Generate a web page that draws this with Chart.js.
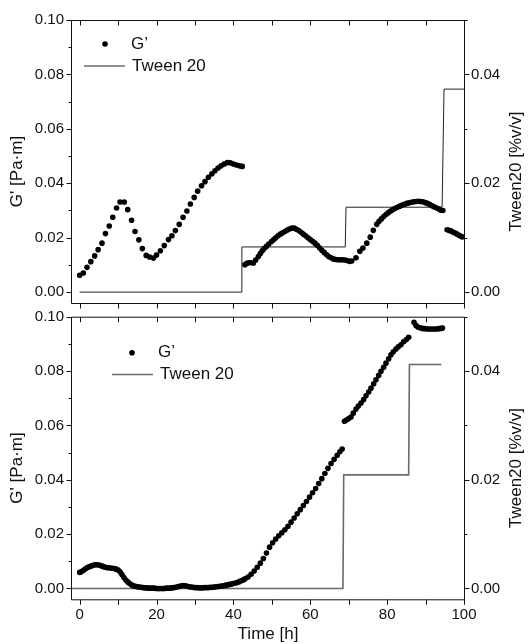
<!DOCTYPE html>
<html>
<head>
<meta charset="utf-8">
<script src="https://cdn.jsdelivr.net/npm/chart.js@4.4.1/dist/chart.umd.min.js"></script>
<style>
  html, body { margin: 0; padding: 0; background: #fff; }
  #wrap { position: relative; width: 528px; height: 644px; overflow: hidden; }
  canvas { position: absolute; left: 0; }
  #c1 { top: 0; }
  #c2 { top: 300px; }
</style>
</head>
<body>
<div id="wrap">
  <canvas id="c1" width="528" height="310"></canvas>
  <canvas id="c2" width="528" height="344"></canvas>
</div>
<script>
// ---------------- DATA ----------------
// Top panel: G' [Pa·m] vs time [h]
const topTime = [
  0, 0.95, 1.9, 2.9, 3.9, 4.8, 5.8, 6.7, 7.7, 8.6, 9.6, 10.5, 11.6, 12.5, 13.5, 14.4, 15.4, 16.3, 17.3, 18.2,
  19.2, 20.0, 21.0, 22.0, 23.1, 24.0, 24.9, 25.9, 26.9, 27.9, 28.8, 29.8, 30.7, 31.7,
  32.6, 33.5, 34.4, 35.2, 36.0, 36.8, 37.6, 38.4, 39.2, 40.0, 40.8, 41.6, 42.3,
  43.0, 43.5, 44.0, 44.6, 45.2, 45.8, 46.5, 47.0, 47.5, 48.0, 48.6, 49.2, 49.9, 50.5, 51.0, 51.6, 52.2, 52.8,
  53.4, 54.0, 54.6, 55.2, 55.8, 56.4, 57.0, 57.6, 58.2, 58.8, 59.4, 60.0, 60.6, 61.2, 61.8, 62.4, 63.0, 63.6,
  64.2, 64.8, 65.4, 66.0, 66.6, 67.2, 67.8, 68.4, 69.0, 69.6, 70.2, 70.8,
  71.9, 72.9, 73.7, 74.7, 75.6, 76.4, 77.3, 77.9, 78.5, 79.1, 79.7, 80.3, 80.9, 81.5, 82.1, 82.7, 83.3, 83.9,
  84.5, 85.1, 85.7, 86.3, 86.9, 87.5, 88.1, 88.7, 89.3, 89.9, 90.5, 91.1, 91.7, 92.3, 92.9, 93.5, 94.0, 94.5,
  95.6, 96.1, 96.6, 97.1, 97.6, 98.1, 98.6, 99.1, 99.6
];
const topG = [
  0.0062, 0.0070, 0.0091, 0.0112, 0.0133, 0.0156, 0.0180, 0.0215, 0.0243, 0.0275, 0.0309, 0.0331, 0.0331, 0.0303, 0.0264, 0.0223, 0.0192, 0.0160, 0.0135, 0.0129,
  0.0125, 0.0136, 0.0152, 0.0171, 0.0193, 0.0207, 0.0226, 0.0249, 0.0275, 0.0298, 0.0324, 0.0348, 0.0371, 0.0391,
  0.0406, 0.0422, 0.0435, 0.0446, 0.0456, 0.0464, 0.0471, 0.0476, 0.0475, 0.0471, 0.0467, 0.0464, 0.0462,
  0.0101, 0.0106, 0.0108, 0.0108, 0.0107, 0.0118, 0.0131, 0.0142, 0.0152, 0.0160, 0.0168, 0.0177, 0.0186, 0.0193, 0.0200, 0.0207, 0.0213, 0.0218,
  0.0223, 0.0228, 0.0232, 0.0235, 0.0235, 0.0231, 0.0226, 0.0220, 0.0213, 0.0207, 0.0200, 0.0193, 0.0187, 0.0180, 0.0172, 0.0163, 0.0154, 0.0146,
  0.0138, 0.0131, 0.0126, 0.0122, 0.0120, 0.0119, 0.0119, 0.0119, 0.0118, 0.0116, 0.0113, 0.0114,
  0.0126, 0.0150, 0.0162, 0.0180, 0.0202, 0.0227, 0.0249, 0.0260, 0.0269, 0.0278, 0.0285, 0.0292, 0.0298, 0.0303, 0.0308, 0.0312, 0.0316, 0.0320,
  0.0323, 0.0326, 0.0328, 0.0330, 0.0332, 0.0333, 0.0334, 0.0333, 0.0332, 0.0329, 0.0326, 0.0322, 0.0317, 0.0313, 0.0309, 0.0305, 0.0301, 0.0300,
  0.0229, 0.0227, 0.0225, 0.0221, 0.0218, 0.0214, 0.0210, 0.0206, 0.0203
];
// Top panel: Tween 20 [%v/v] step profile
const topTweenTime = [0, 42.0, 42.2, 69.1, 69.3, 94.3, 94.8, 100];
const topTween     = [0, 0, 0.0083, 0.0083, 0.0156, 0.0156, 0.0373, 0.0373];

// Bottom panel: G' [Pa·m] vs time [h]
const botTime = [
  0, 0.5, 1, 1.5, 2, 2.5, 3, 3.5, 4, 4.5, 5, 5.5, 6, 6.5, 7, 7.5, 8, 8.5, 9, 9.5,
  10, 10.5, 11, 11.5, 12, 12.5, 13, 13.5, 14, 14.5, 15, 15.5, 16, 16.5, 17, 17.5, 18, 18.5, 19, 19.5,
  20, 20.5, 21, 21.5, 22, 22.5, 23, 23.5, 24, 24.5, 25, 25.5, 26, 26.5, 27, 27.5, 28, 28.5, 29, 29.5,
  30, 30.5, 31, 31.5, 32, 32.5, 33, 33.5, 34, 34.5, 35, 35.5, 36, 36.5, 37, 37.5, 38, 38.5, 39, 39.5,
  40, 40.5, 41, 41.5, 42, 42.5, 43,
  43.8, 44.6, 45.4, 46.2, 47.0, 47.8, 48.6, 49.4, 50.2, 51.0, 51.8, 52.6, 53.4, 54.2, 55.0, 55.8, 56.6, 57.4,
  58.2, 59.0, 59.8, 60.6, 61.4, 62.2, 63.0, 63.8, 64.6, 65.4, 66.2, 67.0, 67.7, 68.3,
  68.9, 69.4, 70.0, 70.6, 71.2, 71.9, 72.5, 73.2, 73.9, 74.5, 75.2, 75.8, 76.5, 77.1, 77.8, 78.4, 79.1, 79.7,
  80.4, 81.0, 81.6, 82.3, 82.9, 83.6, 84.3, 85.0, 85.6,
  87.0, 87.5, 88.0, 88.6, 89.2, 89.8, 90.4, 91.0, 91.6, 92.2, 92.8, 93.4, 94.0, 94.4
];
const botG = [
  0.0059, 0.0062, 0.0067, 0.0072, 0.0077, 0.0080, 0.0083, 0.0085, 0.0087, 0.0087, 0.0086, 0.0084, 0.0081, 0.0079, 0.0077, 0.0076, 0.0075, 0.0074, 0.0073, 0.0071,
  0.0068, 0.0061, 0.0051, 0.0040, 0.0031, 0.0024, 0.0018, 0.0013, 0.0010, 0.0008, 0.0006, 0.0005, 0.0004, 0.0003, 0.0002, 0.0002, 0.0001, 0.0001, 0.0001, 0.0001,
  0.0000, 0.0000, 0.0000, 0.0000, 0.0000, 0.0001, 0.0001, 0.0001, 0.0002, 0.0003, 0.0004, 0.0006, 0.0008, 0.0010, 0.0011, 0.0010, 0.0008, 0.0006, 0.0005, 0.0004,
  0.0003, 0.0003, 0.0002, 0.0002, 0.0002, 0.0003, 0.0003, 0.0003, 0.0004, 0.0004, 0.0005, 0.0006, 0.0007, 0.0008, 0.0009, 0.0010, 0.0012, 0.0013, 0.0015, 0.0016,
  0.0018, 0.0020, 0.0022, 0.0025, 0.0028, 0.0031, 0.0035,
  0.0042, 0.0052, 0.0064, 0.0078, 0.0093, 0.0110, 0.0130, 0.0152, 0.0168, 0.0182, 0.0194, 0.0205, 0.0216, 0.0229, 0.0244, 0.0259, 0.0275, 0.0290,
  0.0305, 0.0320, 0.0336, 0.0352, 0.0368, 0.0386, 0.0404, 0.0423, 0.0442, 0.0460, 0.0475, 0.0490, 0.0503, 0.0513,
  0.0615, 0.0620, 0.0625, 0.0631, 0.0645, 0.0660, 0.0671, 0.0682, 0.0695, 0.0709, 0.0723, 0.0737, 0.0753, 0.0768, 0.0784, 0.0799, 0.0814, 0.0829,
  0.0845, 0.0860, 0.0871, 0.0881, 0.0889, 0.0897, 0.0908, 0.0916, 0.0924,
  0.0979, 0.0968, 0.0962, 0.0959, 0.0957, 0.0956, 0.0955, 0.0955, 0.0955, 0.0955, 0.0955, 0.0956, 0.0957, 0.0958
];
// Bottom panel: Tween 20 [%v/v] step profile
const botTweenTime = [-2, 68.5, 68.7, 85.6, 85.8, 94.1];
const botTween     = [0, 0, 0.0209, 0.0209, 0.0412, 0.0412];

// Tick labels
const xTickLabels     = [0, 20, 40, 60, 80, 100];
const xMinorTicks     = [10, 30, 50, 70, 90];
const leftTickLabels  = [0.00, 0.02, 0.04, 0.06, 0.08, 0.10];
const leftMinorTicks  = [0.01, 0.03, 0.05, 0.07, 0.09];
const rightTickLabels = [0.00, 0.02, 0.04];
const rightMinorTicks = [0.01, 0.03, 0.05];

const seriesNames = ["G\u2019", "Tween 20"];
const axisTitles = { x: "Time [h]", y: "G' [Pa\u00b7m]", y2: "Tween20 [%v/v]" };

// ---------------- CHARTS ----------------
const FONT = '"Liberation Sans", Arial, Helvetica, sans-serif';
Chart.defaults.font.family = FONT;
Chart.defaults.color = '#111';

function pts(xs, ys) { return xs.map((x, i) => ({ x: x, y: ys[i] })); }

const decor = {
  id: 'decor',
  afterDraw(chart, args, o) {
    const { ctx, chartArea: a, scales } = chart;
    const L = a.left - 0.5, R = a.right + 0.5, T = a.top + 0.5, B = a.bottom + 0.5;
    ctx.save();
    ctx.strokeStyle = '#111';
    ctx.lineWidth = 1;
    ctx.beginPath();
    ctx.moveTo(L, T); ctx.lineTo(R, T); ctx.lineTo(R, B); ctx.lineTo(L, B); ctx.closePath();
    // x ticks: outward at bottom, inward at top
    xTickLabels.concat(xMinorTicks).forEach(v => {
      const px = Math.round(scales.x.getPixelForValue(v)) + 0.5;
      ctx.moveTo(px, B); ctx.lineTo(px, B + 5);
      ctx.moveTo(px, T); ctx.lineTo(px, T + 5);
    });
    leftTickLabels.forEach(v => {
      const py = Math.round(scales.y.getPixelForValue(v)) + 0.5;
      ctx.moveTo(L, py); ctx.lineTo(L - 5, py);
    });
    leftMinorTicks.forEach(v => {
      const py = Math.round(scales.y.getPixelForValue(v)) + 0.5;
      ctx.moveTo(L, py); ctx.lineTo(L - 3, py);
    });
    rightTickLabels.forEach(v => {
      const py = Math.round(scales.y2.getPixelForValue(v)) + 0.5;
      ctx.moveTo(R, py); ctx.lineTo(R + 5, py);
    });
    rightMinorTicks.forEach(v => {
      const py = Math.round(scales.y2.getPixelForValue(v)) + 0.5;
      ctx.moveTo(R, py); ctx.lineTo(R + 3, py);
    });
    ctx.stroke();

    // legend
    const lg = o.legend;
    ctx.fillStyle = '#000';
    ctx.beginPath();
    ctx.arc(lg.dotX, lg.dotY, 2.8, 0, Math.PI * 2);
    ctx.fill();
    ctx.strokeStyle = o.lineColor;
    ctx.lineWidth = o.lineWidth;
    ctx.beginPath();
    ctx.moveTo(lg.lineX1, lg.lineY); ctx.lineTo(lg.lineX2, lg.lineY);
    ctx.stroke();
    ctx.fillStyle = '#111';
    ctx.font = '17px ' + FONT;
    ctx.textAlign = 'left';
    ctx.textBaseline = 'middle';
    ctx.fillText(seriesNames[0], lg.textX1, lg.dotY);
    ctx.fillText(seriesNames[1], lg.textX2, lg.lineY);

    // axis titles
    const cy = (a.top + a.bottom) / 2 + 10;
    ctx.font = '17px ' + FONT;
    ctx.textAlign = 'center';
    ctx.textBaseline = 'middle';
    ctx.save();
    ctx.translate(17, cy); ctx.rotate(-Math.PI / 2);
    ctx.fillText(axisTitles.y, 0, 0);
    ctx.restore();
    ctx.save();
    ctx.translate(516, cy); ctx.rotate(-Math.PI / 2);
    ctx.fillText(axisTitles.y2, 0, 0);
    ctx.restore();
    if (o.showXTitle) {
      ctx.fillText(axisTitles.x, (a.left + a.right) / 2, chart.height - 10);
    }
    ctx.restore();
  }
};

function fixV(w) {
  return s => { s.width = w; s.paddingTop = 0; s.paddingBottom = 0; };
}

function makeChart(id, cfg) {
  return new Chart(document.getElementById(id), {
    type: 'scatter',
    data: {
      datasets: [
        {
          label: seriesNames[0], data: cfg.g, yAxisID: 'y', showLine: false,
          pointRadius: 2.8, pointBackgroundColor: '#000', pointBorderWidth: 0, pointStyle: 'circle'
        },
        {
          label: seriesNames[1], data: cfg.t, yAxisID: 'y2', showLine: true, tension: 0,
          pointRadius: 0, borderColor: cfg.lineColor, borderWidth: cfg.lineWidth, fill: false
        }
      ]
    },
    options: {
      responsive: false, animation: false, events: [],
      layout: { padding: { top: cfg.padTop, left: 0, right: 0, bottom: 0 } },
      plugins: {
        legend: { display: false }, tooltip: { enabled: false },
        decor: { legend: cfg.legend, lineColor: cfg.lineColor, lineWidth: cfg.lineWidth, showXTitle: cfg.showX }
      },
      scales: {
        x: {
          type: 'linear', position: 'bottom', min: -2, max: 100,
          grid: { display: false, drawTicks: false }, border: { display: false },
          afterBuildTicks: s => { s.ticks = xTickLabels.map(v => ({ value: v })); },
          afterFit: s => { s.height = cfg.xHeight; s.paddingLeft = 0; s.paddingRight = 0; },
          ticks: { display: cfg.showX, padding: 7, font: { size: 15 }, color: '#111', maxRotation: 0,
                   callback: v => String(v) }
        },
        y: {
          type: 'linear', position: 'left', min: -0.004, max: 0.10,
          grid: { display: false, drawTicks: false }, border: { display: false },
          afterBuildTicks: s => { s.ticks = leftTickLabels.map(v => ({ value: v })); },
          afterFit: fixV(72),
          ticks: { padding: 8, font: { size: 15 }, color: '#111', callback: v => Number(v).toFixed(2) }
        },
        y2: {
          type: 'linear', position: 'right', min: -0.002, max: 0.05,
          grid: { display: false, drawTicks: false }, border: { display: false },
          afterBuildTicks: s => { s.ticks = rightTickLabels.map(v => ({ value: v })); },
          afterFit: fixV(64),
          ticks: { padding: 7, font: { size: 15 }, color: '#111', callback: v => Number(v).toFixed(2) }
        }
      }
    },
    plugins: [decor]
  });
}

makeChart('c1', {
  g: pts(topTime, topG), t: pts(topTweenTime, topTween),
  lineColor: '#222', lineWidth: 1, padTop: 20, xHeight: 7, showX: false,
  legend: { dotX: 105, dotY: 44, textX1: 131, lineX1: 84, lineX2: 125, lineY: 66, textX2: 132 }
});
makeChart('c2', {
  g: pts(botTime, botG), t: pts(botTweenTime, botTween),
  lineColor: '#6a6a6a', lineWidth: 1.6, padTop: 16.7, xHeight: 44.7, showX: true,
  legend: { dotX: 132, dotY: 52.7, textX1: 158, lineX1: 112, lineX2: 153, lineY: 74.5, textX2: 160 }
});
</script>
</body>
</html>
